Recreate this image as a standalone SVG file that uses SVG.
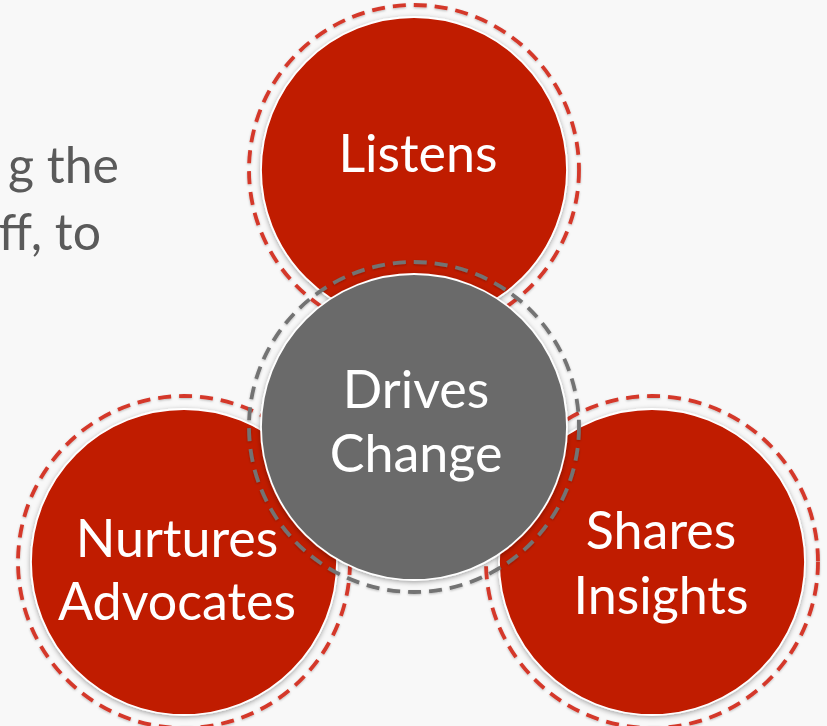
<svg xmlns="http://www.w3.org/2000/svg" width="827" height="726" viewBox="0 0 827 726">
  <defs>
    <filter id="shadow" x="-20%" y="-20%" width="140%" height="140%">
      <feDropShadow dx="0" dy="1.5" stdDeviation="2.5" flood-color="#000" flood-opacity="0.35"/>
    </filter>
    <filter id="ringShadow" x="-20%" y="-20%" width="140%" height="140%">
      <feDropShadow dx="0" dy="1" stdDeviation="1.2" flood-color="#000" flood-opacity="0.25"/>
    </filter>
  </defs>
  <style>
    .bg { fill: #f8f8f8; }
    .disc-red { fill: #c01a02; stroke: #ffffff; stroke-width: 1.8; filter: url(#shadow); }
    .disc-gray { fill: #6b6b6b; stroke: #ffffff; stroke-width: 1.8; filter: url(#shadow); }
    .ring { fill: none; stroke-width: 3.8; stroke-dasharray: 13 8; filter: url(#ringShadow); }
    .ring-red { stroke: #d4382a; }
    .ring-gray { stroke: #737373; }
    .label { font-family: Lato, "Open Sans", "Noto Sans", sans-serif; font-size: 52px; fill: #ffffff; text-anchor: middle; }
    .body { font-family: Lato, "Open Sans", "Noto Sans", sans-serif; font-size: 50px; fill: #5a5a5a; text-anchor: end; }
  </style>

  <rect class="bg" x="0" y="0" width="827" height="726"/>

  <!-- paragraph text running off the left edge -->
  <text class="body" x="119" y="183">g the</text>
  <text class="body" x="101" y="250">ff, to</text>

  <g id="listens">
    <circle class="disc-red" cx="414" cy="170" r="153"/>
    <circle class="ring ring-red" cx="414" cy="170" r="165"/>
    <text class="label" x="418" y="172">Listens</text>
  </g>

  <g id="nurtures-advocates">
    <circle class="disc-red" cx="184" cy="562" r="153"/>
    <circle class="ring ring-red" cx="184" cy="562" r="166"/>
    <text class="label" x="177" y="557">Nurtures</text>
    <text class="label" x="177" y="620">Advocates</text>
  </g>

  <g id="shares-insights">
    <circle class="disc-red" cx="652" cy="562" r="153"/>
    <circle class="ring ring-red" cx="652" cy="562" r="166"/>
    <text class="label" x="661" y="549">Shares</text>
    <text class="label" x="661" y="614">Insights</text>
  </g>

  <g id="drives-change">
    <circle class="disc-gray" cx="414" cy="427" r="153"/>
    <circle class="ring ring-gray" cx="414" cy="427" r="165"/>
    <text class="label" x="416" y="408">Drives</text>
    <text class="label" x="416" y="472">Change</text>
  </g>

  <g id="connectors"></g>
</svg>
